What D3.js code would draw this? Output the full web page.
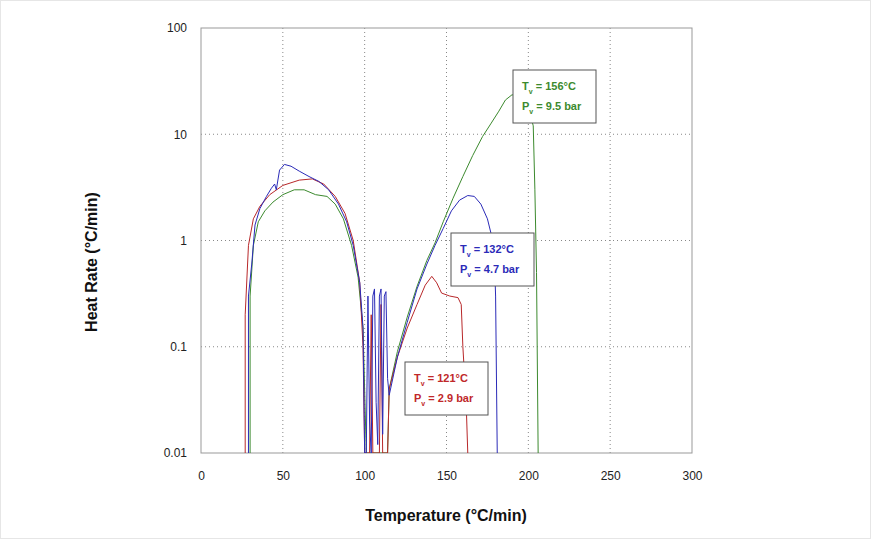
<!DOCTYPE html>
<html><head><meta charset="utf-8">
<script src="https://cdn.jsdelivr.net/npm/d3@7"></script>
<style>
body{margin:0;background:#fff;font-family:"Liberation Sans",Arial,sans-serif;}
</style></head><body>
<div id="chart"></div>
<script>
// values: [temperature, heat rate]
const redSeries = [[27,0.01],[27,0.2],[29,0.9],[32,1.6],[36,2.1],[42,2.7],[50,3.3],[60,3.7],[68,3.8],[75,3.4],[82,2.6],[88,1.8],[93,1.0],[97,0.4],[99,0.1],[100,0.01],
  [103,0.01],[104,0.2],[105,0.01],[109,0.01],[110,0.25],[111,0.01],[114,0.01],[115,0.04],[120,0.08],[126,0.15],[132,0.25],[137,0.38],[141,0.46],[144,0.4],[147,0.32],[152,0.3],[157,0.29],[159,0.25],[160,0.1],[162,0.03],[163,0.01]];
const blueSeries = [[29,0.01],[29,0.3],[31,0.6],[33,1.4],[36,2.0],[40,2.6],[43,3.1],[45,3.4],[46,3.0],[48,4.6],[51,5.2],[55,5.0],[60,4.5],[66,4.0],[72,3.6],[78,3.0],[84,2.2],[89,1.5],[93,0.9],[97,0.4],[99,0.15],[100,0.01],
  [101,0.01],[102,0.3],[103,0.02],[104,0.01],[105,0.3],[106,0.35],[107,0.03],[108,0.012],[109,0.3],[110,0.35],[111,0.015],[112,0.3],[113,0.33],[114,0.05],[115,0.035],[120,0.08],[126,0.17],[132,0.35],[138,0.6],[143,0.9],[148,1.3],[153,1.9],[158,2.4],[163,2.65],[167,2.6],[171,2.2],[175,1.6],[177,1.2],[179,0.9],[180,0.3],[181,0.01]];
const greenSeries = [[30,0.01],[30,0.3],[32,0.9],[35,1.5],[39,1.9],[44,2.3],[50,2.7],[57,3.0],[63,3.0],[70,2.7],[77,2.6],[82,2.2],[87,1.6],[92,0.9],[96,0.45],[99,0.15],[101,0.01],
  [114,0.01],[115,0.04],[120,0.09],[126,0.19],[132,0.37],[138,0.65],[143,0.95],[148,1.5],[154,2.5],[160,4.0],[166,6.3],[172,9.5],[177,12.5],[182,16.5],[186,21],[190,23.5],[196,23],[200,18],[203,12],[204,3],[205,0.5],[206,0.01]];
const xTicks = [0,50,100,150,200,250,300];
const yTicks = [0.01,0.1,1,10,100];
const yTickLabels = ["0.01","0.1","1","10","100"];
const boxes = [
  {t:"121°C", p:"2.9 bar", color:"#c0282a", x:405, y:362},
  {t:"132°C", p:"4.7 bar", color:"#2b2bb8", x:451, y:233},
  {t:"156°C", p:"9.5 bar", color:"#3c8a2e", x:513, y:70}
];

const W = 871, H = 539;
const margin = { top: 28, right: 179, bottom: 86, left: 201 };
const width = W - margin.left - margin.right;
const height = H - margin.top - margin.bottom;

const svg = d3.select("#chart").append("svg").attr("width", W).attr("height", H);
svg.append("rect").attr("x", 0.5).attr("y", 0.5).attr("width", W - 1).attr("height", H - 1)
  .attr("fill", "#fff").attr("stroke", "#e6e6e6");
const g = svg.append("g").attr("transform", "translate(" + margin.left + "," + margin.top + ")");

const x = d3.scaleLinear().domain([0, 300]).range([0, width]);
const y = d3.scaleLog().domain([0.01, 100]).range([height, 0]);

// grid
g.selectAll(".gx").data(xTicks.slice(1, -1)).enter().append("line")
  .attr("x1", d => x(d)).attr("x2", d => x(d)).attr("y1", 0).attr("y2", height)
  .attr("stroke", "#888").attr("stroke-dasharray", "1,3");
g.selectAll(".gy").data(yTicks.slice(1, -1)).enter().append("line")
  .attr("y1", d => y(d)).attr("y2", d => y(d)).attr("x1", 0).attr("x2", width)
  .attr("stroke", "#888").attr("stroke-dasharray", "1,3");

const xAxis = g.append("g").attr("transform", "translate(0," + height + ")")
  .call(d3.axisBottom(x).tickValues(xTicks).tickSize(0).tickPadding(18));
const yAxis = g.append("g")
  .call(d3.axisLeft(y).tickValues(yTicks).tickFormat((d, i) => yTickLabels[i]).tickSize(0).tickPadding(14));
[xAxis, yAxis].forEach(a => {
  a.select(".domain").remove();
  a.selectAll("text").attr("font-size", 12).attr("fill", "#222").attr("font-family", "Liberation Sans, Arial");
});
g.append("rect").attr("width", width).attr("height", height).attr("fill", "none").attr("stroke", "#999");

const line = d3.line().x(d => x(d[0])).y(d => y(d[1]));
const clip = g.append("clipPath").attr("id", "clip").append("rect").attr("width", width).attr("height", height);
[[greenSeries, "#3c8a2e"], [redSeries, "#b8282a"], [blueSeries, "#2b2bb8"]].forEach(s => {
  g.append("path").datum(s[0]).attr("d", line).attr("fill", "none")
    .attr("stroke", s[1]).attr("stroke-width", 1).attr("clip-path", "url(#clip)");
});

// annotation boxes
boxes.forEach(b => {
  const bg = svg.append("g").attr("transform", "translate(" + b.x + "," + b.y + ")");
  bg.append("rect").attr("width", 83).attr("height", 53).attr("fill", "#fff").attr("stroke", "#555");
  [["T", b.t, 20], ["P", b.p, 40]].forEach(r => {
    const t = bg.append("text").attr("x", 9).attr("y", r[2]).attr("fill", b.color)
      .attr("font-size", 11).attr("font-weight", "bold");
    t.append("tspan").text(r[0]);
    t.append("tspan").attr("font-size", 7).attr("dy", 4).text("v");
    t.append("tspan").attr("dy", -4).text(" = " + r[1]);
  });
});

svg.append("text").attr("x", 446).attr("y", 521).attr("text-anchor", "middle")
  .attr("font-size", 16).attr("font-weight", "bold").attr("fill", "#111").text("Temperature (°C/min)");
svg.append("text").attr("transform", "translate(97,262) rotate(-90)").attr("text-anchor", "middle")
  .attr("font-size", 16).attr("font-weight", "bold").attr("fill", "#111").text("Heat Rate (°C/min)");
</script>
</body></html>
